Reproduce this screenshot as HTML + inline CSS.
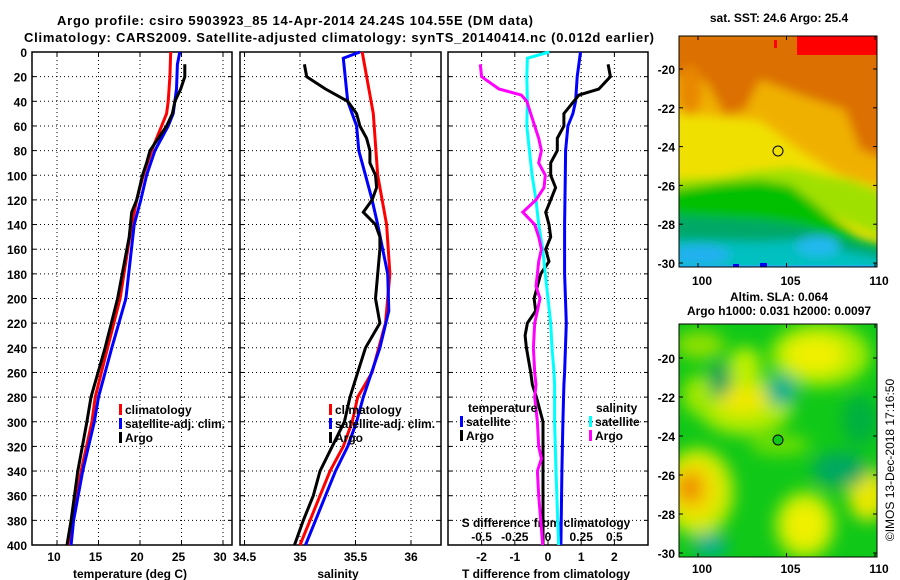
<!DOCTYPE html>
<html><head><meta charset="utf-8">
<style>
html,body{margin:0;padding:0;background:#fff;}
svg{display:block;font-family:"Liberation Sans",sans-serif;font-weight:bold;}
</style></head>
<body>
<svg id="fig" width="900" height="580" viewBox="0 0 900 580" xmlns="http://www.w3.org/2000/svg">
<defs>
<filter id="blur4" x="-20%" y="-20%" width="140%" height="140%"><feGaussianBlur stdDeviation="5"/></filter>
<filter id="blur8" x="-20%" y="-20%" width="140%" height="140%"><feGaussianBlur stdDeviation="8"/></filter>
<clipPath id="clipTop"><rect x="679" y="36" width="198" height="231"/></clipPath>
<clipPath id="clipBot"><rect x="679" y="324" width="198" height="233"/></clipPath>
</defs>
<text x="295" y="25" font-size="13" text-anchor="middle" textLength="476">Argo profile: csiro 5903923_85 14-Apr-2014 24.24S 104.55E (DM data)</text>
<text x="339" y="42" font-size="13" text-anchor="middle" textLength="630">Climatology: CARS2009. Satellite-adjusted climatology: synTS_20140414.nc (0.012d earlier)</text>

<g id="p1"></g>
<g id="p2"></g>
<g id="p3"></g>

<!-- SST map -->
<g>
<text x="779" y="22" font-size="12" text-anchor="middle">sat. SST: 24.6 Argo: 25.4</text>
<g clip-path="url(#clipTop)">
<rect x="679" y="36" width="198" height="231" fill="#f0e000"/>
<g filter="url(#blur4)">
<polygon points="670,30 890,30 890,160 860,150 845,110 800,95 760,80 745,110 725,115 705,80 670,75" fill="#dc7000"/>
<polygon points="670,75 705,80 725,115 745,110 760,80 800,95 845,110 860,150 890,160 890,190 840,175 800,150 760,120 700,115 670,110" fill="#f0b000"/>
<ellipse cx="690" cy="90" rx="12" ry="25" fill="#e88800"/>
<polygon points="670,180 720,178 750,172 790,168 820,175 850,180 890,195 890,240 840,220 810,205 780,190 700,195 670,195" fill="#a0e000"/>
<polygon points="670,190 720,183 760,180 790,185 810,200 840,225 860,238 890,245 890,280 670,280" fill="#00c000"/>
<polygon points="670,215 760,220 800,225 840,238 890,250 890,280 670,280" fill="#00a868"/>
<polygon points="670,240 760,242 800,240 840,250 890,260 890,280 670,280" fill="#00c0c0"/>
<ellipse cx="700" cy="255" rx="30" ry="10" fill="#20b0f0"/>
<ellipse cx="818" cy="246" rx="22" ry="10" fill="#20b8f0"/>
</g>
<rect x="797" y="36" width="80" height="19" fill="#ff0000"/>
<rect x="774" y="40" width="3" height="8" fill="#ff0000"/>
<rect x="679" y="265" width="198" height="3" fill="#20b0f0"/>
<rect x="760" y="263" width="7" height="5" fill="#0000f0"/>
<rect x="733" y="264" width="6" height="4" fill="#0000f0"/>
</g>
<rect x="679" y="36" width="198" height="231" fill="none" stroke="#000" stroke-width="1"/>
<circle cx="778" cy="151" r="5" fill="#f0e000" stroke="#000"/>
</g>

<!-- SLA map -->
<g>
<text x="779" y="301" font-size="12" text-anchor="middle">Altim. SLA: 0.064</text>
<text x="779" y="315" font-size="12" text-anchor="middle">Argo h1000: 0.031 h2000: 0.0097</text>
<g clip-path="url(#clipBot)">
<rect x="679" y="324" width="198" height="233" fill="#10c818"/>
<g filter="url(#blur8)">
<ellipse cx="820" cy="355" rx="50" ry="32" fill="#a8ec00"/>
<ellipse cx="815" cy="355" rx="30" ry="18" fill="#f0f000"/>
<ellipse cx="745" cy="405" rx="48" ry="30" fill="#b0ec00"/>
<ellipse cx="742" cy="400" rx="26" ry="14" fill="#f0e800"/>
<ellipse cx="700" cy="395" rx="18" ry="20" fill="#a0e800"/>
<ellipse cx="745" cy="365" rx="16" ry="18" fill="#c0f000"/>
<ellipse cx="698" cy="492" rx="36" ry="44" fill="#c8ec00"/>
<ellipse cx="695" cy="490" rx="24" ry="30" fill="#f0e000"/>
<ellipse cx="690" cy="488" rx="14" ry="16" fill="#f09000"/>
<ellipse cx="805" cy="525" rx="30" ry="34" fill="#b8ec00"/>
<ellipse cx="805" cy="525" rx="20" ry="22" fill="#f0f000"/>
<ellipse cx="868" cy="495" rx="20" ry="26" fill="#e8e800"/>
<ellipse cx="780" cy="445" rx="30" ry="10" fill="#70e000"/>
<ellipse cx="700" cy="345" rx="25" ry="14" fill="#90e000"/>
<ellipse cx="720" cy="380" rx="10" ry="18" fill="#009860"/>
<ellipse cx="782" cy="390" rx="16" ry="16" fill="#00b090"/>
<ellipse cx="710" cy="545" rx="18" ry="12" fill="#00b090"/>
<ellipse cx="840" cy="470" rx="28" ry="18" fill="#00a860"/>
<ellipse cx="860" cy="420" rx="18" ry="25" fill="#00b040"/>
</g>
</g>
<rect x="679" y="324" width="198" height="233" fill="none" stroke="#000" stroke-width="1"/>
<circle cx="778" cy="440" r="5" fill="#10c818" stroke="#000"/>
</g>
<g id="maxes"></g>
<text transform="translate(894,460) rotate(-90)" font-size="12" font-weight="normal" text-anchor="middle">©IMOS 13-Dec-2018 17:16:50</text>
</svg>

<script>
// ---- data ----
const depthTicks = [0,20,40,60,80,100,120,140,160,180,200,220,240,260,280,300,320,340,360,380,400];
const tempTicks = [10,15,20,25,30];
const salTicks = [34.5,35,35.5,36];
const tdiffTicks = [-2,-1,0,1,2];
const sdiffTicks = [-0.5,-0.25,0,0.25,0.5];
const sdiffTickLabels = ['-0.5','-0.25','0','0.25','0.5'];

const climTDepth = [0,20,40,50,60,80,100,120,140,200,240,280,300,340,380,400];
const climT      = [23.7,23.6,23.4,23.2,22.6,21.4,20.4,19.6,19.0,17.6,16.1,14.6,14.2,12.9,11.9,11.3];
const satTDepth  = [0,10,30,50,60,80,100,120,140,200,240,280,300,340,380,400];
const satT       = [24.8,24.5,24.4,24.0,23.4,21.8,20.8,20.1,19.3,18.3,16.6,15.0,14.5,13.1,12.0,11.7];
const argoTDepth = [10,20,30,40,50,60,80,90,100,120,130,150,200,240,280,300,340,380,400];
const argoT      = [25.4,25.4,24.9,24.2,23.9,23.2,21.2,20.8,20.3,19.6,19.0,18.7,17.3,15.8,14.1,13.6,12.5,11.7,11.2];

const climSDepth = [0,50,100,140,180,200,220,260,280,300,320,340,360,380,400];
const climS      = [35.56,35.66,35.70,35.78,35.81,35.79,35.77,35.65,35.52,35.47,35.39,35.27,35.18,35.09,35.0];
const satSDepth  = [0,5,40,60,80,100,120,140,180,210,240,280,300,320,340,360,380,400];
const satS       = [35.54,35.39,35.43,35.51,35.53,35.59,35.65,35.70,35.79,35.80,35.72,35.57,35.51,35.43,35.32,35.23,35.14,35.05];
const argoSDepth = [10,20,30,40,50,60,70,80,90,100,110,120,130,140,150,160,180,200,220,240,260,280,300,320,340,360,380,400];
const argoS      = [35.04,35.06,35.23,35.43,35.51,35.54,35.60,35.63,35.63,35.68,35.69,35.65,35.57,35.68,35.72,35.72,35.70,35.68,35.72,35.59,35.52,35.45,35.40,35.29,35.18,35.12,35.03,34.95];

const dSatTDepth  = [0,20,40,50,60,80,100,140,180,220,260,270,300,340,400];
const dSatT       = [0.98,0.88,0.83,0.75,0.6,0.53,0.52,0.5,0.5,0.55,0.5,0.48,0.45,0.42,0.39];
const dArgoTDepth = [10,20,30,35,50,60,70,80,90,100,110,120,130,140,150,160,170,180,190,200,210,220,230,240,260,270,280,300,340,400];
const dArgoT      = [1.81,1.88,1.53,0.93,0.48,0.48,0.28,0.28,0.08,0.08,0.23,0.08,-0.07,0.03,0.08,-0.07,0.03,-0.22,-0.32,-0.42,-0.37,-0.62,-0.69,-0.65,-0.52,-0.47,-0.35,-0.15,-0.15,-0.15];
const dSatSDepth  = [0,5,20,40,60,80,100,120,140,160,180,200,220,240,260,270,300,340,400];
const dSatS       = [0.01,-0.155,-0.16,-0.155,-0.16,-0.14,-0.12,-0.09,-0.07,-0.04,-0.02,0,0.02,0.03,0.045,0.05,0.05,0.06,0.08];
const dArgoSDepth = [10,20,30,35,40,50,60,70,80,90,100,110,120,130,140,150,160,170,180,190,200,210,220,240,260,270,280,300,320,330,340,360,400];
const dArgoS      = [-0.51,-0.5,-0.37,-0.2,-0.16,-0.13,-0.1,-0.07,-0.05,-0.07,-0.02,-0.03,-0.09,-0.19,-0.1,-0.07,-0.05,-0.07,-0.08,-0.09,-0.06,-0.08,-0.1,-0.11,-0.1,-0.09,-0.1,-0.08,-0.07,-0.05,-0.08,-0.07,-0.04];

const latTicks = [-20,-22,-24,-26,-28,-30];
const lonTicks = [100,105,110];

// ---- helpers ----
const NS='http://www.w3.org/2000/svg';
function mk(tag, attrs, parent){const e=document.createElementNS(NS,tag);for(const k in attrs)e.setAttribute(k,attrs[k]);parent.appendChild(e);return e;}
const Y0=52, Y1=545;
const yD = d => Y0 + d*(Y1-Y0)/400;
const xT = t => 57 + (t-10)*8.3;
const xS = s => 300 + (s-35)*111;
const xDT = v => 548 + v*33.2;
const xDS = v => 548 + v*132.8;

function panel(g, x0, x1, vgrid){
  for(const d of depthTicks){
    if(d>0&&d<400){const l=mk('line',{x1:x0,x2:x1,y1:yD(d),y2:yD(d),stroke:'#000','stroke-width':1,'stroke-dasharray':'1,3'},g);
    
    }
    mk('line',{x1:x0,x2:x0+4,y1:yD(d),y2:yD(d),stroke:'#000'},g);
    mk('line',{x1:x1-4,x2:x1,y1:yD(d),y2:yD(d),stroke:'#000'},g);
  }
  for(const x of vgrid){
    const l=mk('line',{x1:x,x2:x,y1:Y0,y2:Y1,stroke:'#000','stroke-width':1,'stroke-dasharray':'1,3'},g);
    
    
    mk('line',{x1:x,x2:x,y1:Y1-4,y2:Y1,stroke:'#000'},g);
    mk('line',{x1:x,x2:x,y1:Y0,y2:Y0+4,stroke:'#000'},g);
  }
  const r=mk('rect',{x:x0,y:Y0,width:x1-x0,height:Y1-Y0,fill:'none',stroke:'#000','stroke-width':1.5},g);
  
  
}
function series(g, depths, vals, xf, color, name){
  const pts=depths.map((d,i)=>xf(vals[i]).toFixed(1)+','+yD(d).toFixed(1)).join(' ');
  const p=mk('polyline',{points:pts,fill:'none',stroke:color,'stroke-width':3,'stroke-linejoin':'miter'},g);
  
  
}
function txt(g,x,y,s,anchor,size,name){
  const t=mk('text',{x:x,y:y,'font-size':size||12,'text-anchor':anchor||'start'},g);
  t.textContent=s;
  
  
  return t;
}
function legend(g,x,y,items){
  items.forEach((it,i)=>{
    const b=mk('rect',{x:x,y:y+i*14-10,width:3,height:11,fill:it[1]},g);
    
    
    txt(g,x+6,y+i*14,it[0],'start',12,'legend-entry');
  });
}

// ---- panel 1 ----
const p1=document.getElementById('p1');
panel(p1,32,232,tempTicks.map(xT));
depthTicks.forEach(d=>txt(p1,27,yD(d)+5,String(d),'end',12,'y-tick-label'));
tempTicks.forEach(t=>txt(p1,xT(t)-3,561,String(t),'middle',12,'x-tick-label'));
txt(p1,130,578,'temperature (deg C)','middle',12,'x-axis-title');
series(p1,climTDepth,climT,xT,'#ff0000','climatology-temperature-line');
series(p1,satTDepth,satT,xT,'#0000ff','satellite-temperature-line');
series(p1,argoTDepth,argoT,xT,'#000000','argo-temperature-line');
legend(p1,119,414,[['climatology','#ff0000'],['satellite-adj. clim.','#0000ff'],['Argo','#000000']]);

// ---- panel 2 ----
const p2=document.getElementById('p2');
panel(p2,240,441,salTicks.map(xS));
salTicks.forEach(s=>txt(p2,xS(s),561,String(s),'middle',12,'x-tick-label'));
txt(p2,338,578,'salinity','middle',12,'x-axis-title');
series(p2,climSDepth,climS,xS,'#ff0000','climatology-salinity-line');
series(p2,satSDepth,satS,xS,'#0000ff','satellite-salinity-line');
series(p2,argoSDepth,argoS,xS,'#000000','argo-salinity-line');
legend(p2,329,414,[['climatology','#ff0000'],['satellite-adj. clim.','#0000ff'],['Argo','#000000']]);

// ---- panel 3 ----
const p3=document.getElementById('p3');
panel(p3,448,648,tdiffTicks.map(xDT));
tdiffTicks.forEach(t=>txt(p3,xDT(t),561,String(t),'middle',12,'t-diff-tick-label'));
txt(p3,546,578,'T difference from climatology','middle',12,'t-diff-axis-title');
sdiffTicks.forEach((s,i)=>txt(p3,xDS(s),541,sdiffTickLabels[i],'middle',12,'s-diff-tick-label'));
txt(p3,546,527,'S difference from climatology','middle',12,'s-diff-axis-title');
series(p3,dSatTDepth,dSatT,xDT,'#0000ff','satellite-t-diff-line');
series(p3,dArgoTDepth,dArgoT,xDT,'#000000','argo-t-diff-line');
series(p3,dSatSDepth,dSatS,xDS,'#00ffff','satellite-s-diff-line');
series(p3,dArgoSDepth,dArgoS,xDS,'#ff00ff','argo-s-diff-line');
txt(p3,468,412,'temperature','start',12,'legend-title-temperature');
legend(p3,460,426,[['satellite','#0000ff'],['Argo','#000000']]);
txt(p3,596,412,'salinity','start',12,'legend-title-salinity');
legend(p3,589,426,[['satellite','#00ffff'],['Argo','#ff00ff']]);

// ---- map axes ----
const ma=document.getElementById('maxes');
const lonX = l => 698 + (l-100)*17.7;
const latYTop = la => 69 + (-20-la)*19.4;
const latYBot = la => 358 + (-20-la)*19.5;
latTicks.forEach(la=>{
  txt(ma,675,latYTop(la)+5,String(la),'end',12,'sst-lat-label');
  mk('line',{x1:679,x2:683,y1:latYTop(la),y2:latYTop(la),stroke:'#000'},ma);
  mk('line',{x1:873,x2:877,y1:latYTop(la),y2:latYTop(la),stroke:'#000'},ma);
  txt(ma,675,latYBot(la)+5,String(la),'end',12,'sla-lat-label');
  mk('line',{x1:679,x2:683,y1:latYBot(la),y2:latYBot(la),stroke:'#000'},ma);
  mk('line',{x1:873,x2:877,y1:latYBot(la),y2:latYBot(la),stroke:'#000'},ma);
});
lonTicks.forEach(l=>{
  txt(ma,lonX(l)+4,285,String(l),'middle',12,'sst-lon-label');
  mk('line',{x1:lonX(l),x2:lonX(l),y1:36,y2:40,stroke:'#000'},ma);
  mk('line',{x1:lonX(l),x2:lonX(l),y1:263,y2:267,stroke:'#000'},ma);
  txt(ma,lonX(l)+4,573,String(l),'middle',12,'sla-lon-label');
  mk('line',{x1:lonX(l),x2:lonX(l),y1:324,y2:328,stroke:'#000'},ma);
  mk('line',{x1:lonX(l),x2:lonX(l),y1:553,y2:557,stroke:'#000'},ma);
});
</script>
</body></html>
